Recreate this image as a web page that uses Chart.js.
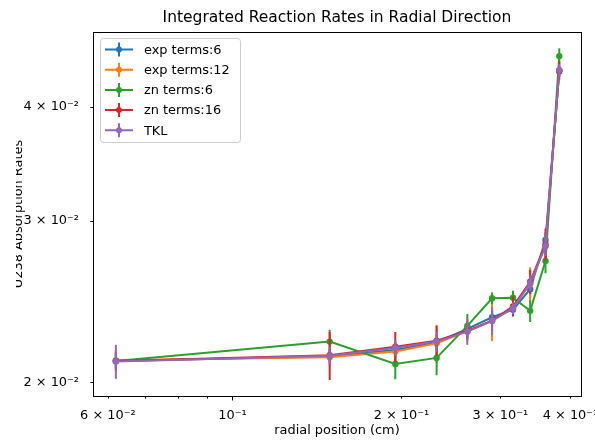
<!DOCTYPE html>
<html>
<head>
<meta charset="utf-8">
<script src="https://cdn.jsdelivr.net/npm/chart.js@4.4.1/dist/chart.umd.min.js"></script>
<style>
  html, body { margin: 0; padding: 0; background: #fff; }
</style>
</head>
<body>
<canvas id="rates" width="595" height="441"></canvas>
<script>
// radial positions (cm)
const radius = [0.062, 0.149, 0.195, 0.231, 0.262, 0.290, 0.316, 0.339, 0.361, 0.382];

const seriesNames = ['exp terms:6', 'exp terms:12', 'zn terms:6', 'zn terms:16', 'TKL'];
const seriesColors = ['#1f77b4', '#ff7f0e', '#2ca02c', '#d62728', '#9467bd'];

// U238 absorption rates and their errors
const expTerms6 = [0.02110, 0.02135, 0.02169, 0.02212, 0.02287, 0.02355, 0.02400, 0.02527, 0.02860, 0.04370];
const expTerms6Err = [0.00035, 0.00035, 0.00040, 0.00040, 0.00040, 0.00045, 0.00040, 0.00045, 0.00057, 0.00060];
const expTerms12 = [0.02113, 0.02130, 0.02160, 0.02205, 0.02275, 0.02335, 0.02415, 0.02560, 0.02820, 0.04380];
const expTerms12Err = [0.00045, 0.00045, 0.00055, 0.00105, 0.00055, 0.00117, 0.00036, 0.00110, 0.00085, 0.00066];
const znTerms6 = [0.02110, 0.02215, 0.02094, 0.02126, 0.02304, 0.02470, 0.02474, 0.02393, 0.02713, 0.04543];
const znTerms6Err = [0.00042, 0.00067, 0.00079, 0.00091, 0.00070, 0.00037, 0.00044, 0.00066, 0.00082, 0.00090];
const znTerms16 = [0.02110, 0.02140, 0.02187, 0.02220, 0.02275, 0.02335, 0.02420, 0.02575, 0.02830, 0.04380];
const znTerms16Err = [0.00053, 0.00129, 0.00082, 0.00084, 0.00046, 0.00060, 0.00060, 0.00078, 0.00114, 0.00100];
const tkl = [0.02107, 0.02137, 0.02180, 0.02215, 0.02271, 0.02333, 0.02409, 0.02566, 0.02817, 0.04386];
const tklErr = [0.00090, 0.00048, 0.00044, 0.00056, 0.00074, 0.00082, 0.00036, 0.00050, 0.00070, 0.00066];

const seriesValues = [expTerms6, expTerms12, znTerms6, znTerms16, tkl];
const seriesErrors = [expTerms6Err, expTerms12Err, znTerms6Err, znTerms16Err, tklErr];

const xTicks = [0.06, 0.07, 0.08, 0.09, 0.1, 0.2, 0.3, 0.4];
const xTickLabels = ['6 × 10⁻²', '', '', '', '10⁻¹', '2 × 10⁻¹', '3 × 10⁻¹', '4 × 10⁻¹'];
const yTicks = [0.02, 0.03, 0.04];
const yTickLabels = ['2 × 10⁻²', '3 × 10⁻²', '4 × 10⁻²'];

const FONT = 'DejaVu Sans';

// vertical error bars, drawn just under each dataset's own line
const errorBarPlugin = {
    id: 'errorBars',
    beforeDatasetDraw(chart, args) {
        const ds = chart.data.datasets[args.index];
        const xs = chart.scales.x, ys = chart.scales.y;
        const ctx = chart.ctx;
        ctx.save();
        ctx.strokeStyle = ds.borderColor;
        ctx.lineWidth = 2;
        ds.data.forEach((p, i) => {
            const e = ds.errorBars[i];
            const px = xs.getPixelForValue(p.x);
            ctx.beginPath();
            ctx.moveTo(px, ys.getPixelForValue(p.y - e));
            ctx.lineTo(px, ys.getPixelForValue(p.y + e));
            ctx.stroke();
        });
        ctx.restore();
    }
};

// matplotlib-like frame, tick marks, titles and legend
const decorPlugin = {
    id: 'decor',
    afterDraw(chart) {
        const ctx = chart.ctx;
        const a = chart.chartArea;
        const xs = chart.scales.x, ys = chart.scales.y;
        ctx.save();
        ctx.strokeStyle = '#000';
        ctx.lineWidth = 1;
        ctx.strokeRect(Math.round(a.left) + 0.5, Math.round(a.top) + 0.5,
            Math.round(a.right - a.left), Math.round(a.bottom - a.top));

        xTicks.forEach((v) => {
            const px = Math.round(xs.getPixelForValue(v)) + 0.5;
            const len = v === 0.1 ? 4.5 : 2.6;
            ctx.beginPath();
            ctx.moveTo(px, a.bottom);
            ctx.lineTo(px, a.bottom + len);
            ctx.stroke();
        });
        yTicks.forEach((v) => {
            const py = Math.round(ys.getPixelForValue(v)) + 0.5;
            ctx.beginPath();
            ctx.moveTo(a.left, py);
            ctx.lineTo(a.left - 2.6, py);
            ctx.stroke();
        });

        const cx = (a.left + a.right) / 2;
        ctx.fillStyle = '#000';
        ctx.textAlign = 'center';
        ctx.textBaseline = 'middle';
        ctx.font = '15.5px "' + FONT + '"';
        ctx.fillText('Integrated Reaction Rates in Radial Direction', cx, 18);
        ctx.font = '12.9px "' + FONT + '"';
        ctx.fillText('radial position (cm)', cx, 431);

        // y title, cut at the figure edge like the reference
        ctx.save();
        ctx.beginPath();
        ctx.rect(16, 0, 40, chart.height);
        ctx.clip();
        ctx.translate(22, (a.top + a.bottom) / 2);
        ctx.rotate(-Math.PI / 2);
        ctx.textBaseline = 'alphabetic';
        ctx.fillText('U238 Absorption Rates', 0, 0);
        ctx.restore();

        // legend
        const lx = 100.5, ly = 38.5, lw = 140, lh = 104;
        ctx.beginPath();
        ctx.roundRect(lx, ly, lw, lh, 3);
        ctx.fillStyle = 'rgba(255,255,255,0.8)';
        ctx.fill();
        ctx.strokeStyle = '#cccccc';
        ctx.stroke();
        ctx.textAlign = 'left';
        ctx.textBaseline = 'middle';
        ctx.font = '12.9px "' + FONT + '"';
        chart.data.datasets.forEach((ds, i) => {
            const y = 49.5 + i * 20.2;
            ctx.strokeStyle = ds.borderColor;
            ctx.lineWidth = 2;
            ctx.beginPath();
            ctx.moveTo(105, y);
            ctx.lineTo(133, y);
            ctx.moveTo(119, y - 7);
            ctx.lineTo(119, y + 7);
            ctx.stroke();
            ctx.fillStyle = ds.borderColor;
            ctx.beginPath();
            ctx.arc(119, y, 3, 0, Math.PI * 2);
            ctx.fill();
            ctx.fillStyle = '#000';
            ctx.fillText(ds.label, 144, y + 1);
        });
        ctx.restore();
    }
};

const datasets = seriesNames.map((name, k) => ({
    label: name,
    data: radius.map((r, i) => ({ x: r, y: seriesValues[k][i] })),
    errorBars: seriesErrors[k],
    borderColor: seriesColors[k],
    backgroundColor: seriesColors[k],
    borderWidth: 2,
    pointRadius: 3.2,
    pointBorderWidth: 0,
    pointHoverRadius: 3.2,
    tension: 0,
    order: seriesNames.length - k,
}));

new Chart(document.getElementById('rates').getContext('2d'), {
    type: 'line',
    data: { datasets: datasets },
    options: {
        responsive: false,
        animation: false,
        devicePixelRatio: 1,
        layout: { padding: { top: 32, right: 14, left: 0, bottom: 0 } },
        plugins: {
            legend: { display: false },
            tooltip: { enabled: false },
        },
        scales: {
            x: {
                type: 'logarithmic',
                min: 0.05645,
                max: 0.4176,
                grid: { display: false },
                border: { display: false },
                afterBuildTicks(scale) {
                    scale.ticks = xTicks.map((v) => ({ value: v }));
                },
                afterFit(scale) {
                    scale.height = 45;
                    scale.paddingLeft = 0;
                    scale.paddingRight = 0;
                },
                ticks: {
                    autoSkip: false,
                    maxRotation: 0,
                    padding: 4,
                    color: '#000',
                    font: { family: FONT, size: 12.9 },
                    callback: (v, i) => xTickLabels[i],
                },
            },
            y: {
                type: 'logarithmic',
                min: 0.019316,
                max: 0.04827,
                grid: { display: false },
                border: { display: false },
                afterBuildTicks(scale) {
                    scale.ticks = yTicks.map((v) => ({ value: v }));
                },
                afterFit(scale) {
                    scale.width = 93;
                    scale.paddingTop = 0;
                    scale.paddingBottom = 0;
                },
                ticks: {
                    autoSkip: false,
                    padding: 6,
                    color: '#000',
                    font: { family: FONT, size: 12.9 },
                    callback: (v, i) => yTickLabels[i],
                },
            },
        },
    },
    plugins: [errorBarPlugin, decorPlugin],
});
</script>
</body>
</html>
